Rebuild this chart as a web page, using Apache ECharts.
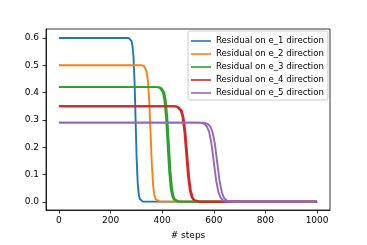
<!DOCTYPE html>
<html>
<head>
<meta charset="utf-8">
<script src="https://cdn.jsdelivr.net/npm/echarts@6/dist/echarts.min.js"></script>
<style>html,body{margin:0;padding:0;background:#fff}#c{width:367px;height:245px}</style>
</head>
<body>
<div id="c"></div>
<script>
var legendNames = ['Residual on e_1 direction','Residual on e_2 direction','Residual on e_3 direction','Residual on e_4 direction','Residual on e_5 direction'];
var colors = ['#1f77b4','#ff7f0e','#2ca02c','#d62728','#9467bd'];
var xTicks = [0,200,400,600,800,1000];
var yTicks = [0,0.1,0.2,0.3,0.4,0.5,0.6];

// e_1 (single run)
var e1Steps = [0,270,277,281,285,289,293,297,301,305,309,313,317,325,1000];
var e1Vals  = [0.6,0.6,0.596,0.5892,0.5716,0.5286,0.4386,0.3,0.1614,0.0714,0.0284,0.0108,0.004,0.0005,0];
// e_2
var e2Steps = [0,320,330,335,340,345,350,355,360,365,370,375,380,390,1000];
var e2Vals  = [0.5,0.5,0.4967,0.491,0.4763,0.4405,0.3655,0.25,0.1345,0.0595,0.0237,0.009,0.0034,0.0005,0];
// e_3 (two runs)
var e3aSteps = [0,380,391,397,403,409,415,421,427,433,439,445,451,463,1000];
var e3bSteps = [0,385,396,402,408,414,420,426,432,438,444,450,456,468,1000];
var e3Vals   = [0.42,0.42,0.4172,0.4124,0.4001,0.37,0.307,0.21,0.113,0.05,0.0199,0.0076,0.0028,0.0004,0];
// e_4 (two runs)
var e4aSteps = [0,446,458,465,472,479,486,493,500,507,514,521,528,542,1000];
var e4bSteps = [0,450,462,469,476,483,490,497,504,511,518,525,532,546,1000];
var e4Vals   = [0.35,0.35,0.3477,0.3437,0.3334,0.3084,0.2559,0.175,0.0941,0.0417,0.0166,0.0063,0.0023,0.0003,0];
// e_5 (two runs)
var e5aSteps = [0,540,555,564,573,582,591,600,609,618,627,636,645,663,1000];
var e5bSteps = [0,553,568,577,586,595,604,613,622,631,640,649,658,676,1000];
var e5Vals   = [0.29,0.29,0.2881,0.2848,0.2763,0.2555,0.212,0.145,0.078,0.0345,0.0137,0.0052,0.0019,0.0003,0];

function pairs(xs, ys){ return xs.map(function(x,i){return [x, ys[i]];}); }
var runs = [
  [0, e1Steps, e1Vals],
  [1, e2Steps, e2Vals],
  [2, e3aSteps, e3Vals],
  [2, e3bSteps, e3Vals],
  [3, e4aSteps, e4Vals],
  [3, e4bSteps, e4Vals],
  [4, e5aSteps, e5Vals],
  [4, e5bSteps, e5Vals]
];
var series = runs.map(function(r){
  return {
    type:'line', name: legendNames[r[0]], data: pairs(r[1], r[2]),
    symbol:'none', smooth:false,
    lineStyle:{color:colors[r[0]], width:1.9, join:'round'},
    itemStyle:{color:colors[r[0]]},
    animation:false
  };
});

var font = 'DejaVu Sans';
var chart = echarts.init(document.getElementById('c'), null, {renderer:'canvas'});
chart.setOption({
  animation:false,
  backgroundColor:'#fff',
  grid:{left:46, right:37, top:29, bottom:31, show:true, borderColor:'#000', borderWidth:0.8, containLabel:false},
  legend:{
    data: legendNames, orient:'vertical', left:188, top:31,
    icon:'rect', itemWidth:20, itemHeight:1.6, itemGap:3,
    padding:[5,4,2,3],
    backgroundColor:'rgba(255,255,255,0.85)', borderColor:'#ccc', borderWidth:1, borderRadius:2,
    textStyle:{fontFamily:font, fontSize:8.6, color:'#000', lineHeight:10, height:10}
  },
  xAxis:{
    type:'value', min:-50, max:1050,
    name:'# steps', nameLocation:'middle', nameGap:21,
    nameTextStyle:{fontFamily:font, fontSize:9, color:'#000'},
    axisLine:{show:true, onZero:false, lineStyle:{color:'#000', width:0.8}},
    axisTick:{show:true, length:3.5, lineStyle:{color:'#000', width:0.8}, customValues:xTicks},
    axisLabel:{fontFamily:font, fontSize:9, color:'#000', margin:6, customValues:xTicks,
      formatter:function(v){return String(Math.round(v));}},
    splitLine:{show:false}
  },
  yAxis:{
    type:'value', min:-0.0302, max:0.633,
    axisLine:{show:true, onZero:false, lineStyle:{color:'#000', width:0.8}},
    axisTick:{show:true, length:3.5, lineStyle:{color:'#000', width:0.8}, customValues:yTicks},
    axisLabel:{fontFamily:font, fontSize:9, color:'#000', margin:7, customValues:yTicks,
      formatter:function(v){return v.toFixed(1);}},
    splitLine:{show:false}
  },
  series: series
});
</script>
</body>
</html>
